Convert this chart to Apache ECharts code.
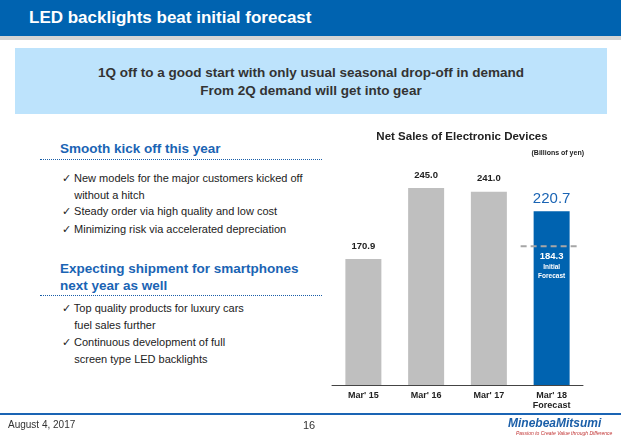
<!DOCTYPE html>
<html><head><meta charset="utf-8">
<script src="https://cdn.jsdelivr.net/npm/echarts@6/dist/echarts.min.js"></script>
<style>
body{margin:0;width:621px;height:438px;position:relative;overflow:hidden;font-family:"Liberation Sans",Arial,sans-serif;background:#fff}
.a{position:absolute}
#chart{position:absolute;left:0;top:0;width:621px;height:438px}
.h{color:#1a64b4;font-weight:bold;font-size:13.5px}
.b{font-size:11px;color:#222}
.dot{border-top:1px dotted #1a5ea8;height:0}
</style></head><body>
<div class="a" style="left:0;top:0;width:621px;height:36px;background:#0063b0"></div>
<div class="a" style="left:0;top:36px;width:621px;height:4px;background:#d4d4d4"></div>
<div class="a" style="left:29px;top:8px;color:#fff;font-weight:bold;font-size:17px">LED backlights beat initial forecast</div>
<div class="a" style="left:15px;top:48px;width:592px;height:66px;background:#bde3fc"></div>
<div class="a" style="left:15px;top:64px;width:592px;text-align:center;font-weight:bold;font-size:13.5px;color:#333;line-height:18px">1Q off to a good start with only usual seasonal drop-off in demand<br>From 2Q demand will get into gear</div>

<div class="a h" style="left:60px;top:141px">Smooth kick off this year</div>
<div class="a dot" style="left:40px;top:159px;width:282px"></div>
<div class="a b" style="left:62px;top:170px;line-height:17px">✓ New models for the major customers kicked off<br>&nbsp;&nbsp;&nbsp;&nbsp;without a hitch</div>
<div class="a b" style="left:62px;top:205px">✓ Steady order via high quality and low cost</div>
<div class="a b" style="left:62px;top:223px">✓ Minimizing risk via accelerated depreciation</div>
<div class="a h" style="left:60px;top:260px;line-height:17px">Expecting shipment for smartphones<br>next year as well</div>
<div class="a dot" style="left:40px;top:295px;width:282px"></div>
<div class="a b" style="left:62px;top:300px;line-height:17px">✓ Top quality products for luxury cars<br>&nbsp;&nbsp;&nbsp;&nbsp;fuel sales further</div>
<div class="a b" style="left:62px;top:334px;line-height:17px">✓ Continuous development of full<br>&nbsp;&nbsp;&nbsp;&nbsp;screen type LED backlights</div>

<div id="chart"></div>

<div class="a" style="left:0;top:413px;width:621px;height:2px;background:#1a64b4"></div>
<div class="a" style="left:8px;top:419px;font-size:10px;color:#333">August 4, 2017</div>
<div class="a" style="left:303px;top:419px;font-size:11px;color:#333">16</div>
<div class="a" style="left:508px;top:416px;font-size:12px;font-weight:bold;font-style:italic;color:#1a5ea8">MinebeaMitsumi</div>
<div class="a" style="left:516px;top:430px;font-size:5px;font-style:italic;color:#c03030">Passion to Create Value through Difference</div>

<script>
const categories = ["Mar' 15", "Mar' 16", "Mar' 17", "Mar' 18\nForecast"];
const sales = [170.9, 245.0, 241.0, 220.7];
const initialForecast = 184.3;

const chart = echarts.init(document.getElementById('chart'));
chart.setOption({
    animation: false,
    title: [
        {text: 'Net Sales of Electronic Devices', left: 457, top: 126, textAlign: 'center',
         textStyle: {fontSize: 11.5, fontWeight: 'bold', color: '#222', fontFamily: 'Liberation Sans'}},
        {text: '(Billions of yen)', right: 32, top: 145,
         textStyle: {fontSize: 7, fontWeight: 'bold', color: '#222', fontFamily: 'Liberation Sans'}}
    ],
    grid: {left: 332, right: 38, top: 150, bottom: 53},
    xAxis: {
        type: 'category', data: categories,
        axisLine: {lineStyle: {color: '#444', width: 1}},
        axisTick: {show: false},
        axisLabel: {color: '#222', fontWeight: 'bold', fontSize: 9, fontFamily: 'Liberation Sans', lineHeight: 10, margin: 6}
    },
    yAxis: {type: 'value', min: 39.4, max: 284.6, show: false, splitLine: {show: false}},
    series: [
        {
            type: 'bar', barWidth: 36, z: 2,
            data: sales.map((v, i) => ({
                value: v,
                itemStyle: {color: i === 3 ? '#0063b0' : '#bfbfbf'},
                label: i === 3
                    ? {color: '#1a64b4', fontSize: 15, fontWeight: 'normal', distance: 5}
                    : {color: '#222', fontSize: 9.5, fontWeight: 'bold', distance: 8}
            })),
            label: {show: true, position: 'top', fontFamily: 'Liberation Sans', formatter: p => p.value.toFixed(1)}
        },
        {
            type: 'custom', z: 10,
            data: [[3, initialForecast]],
            renderItem: function (params, api) {
                const p = api.coord([api.value(0), api.value(1)]);
                return {
                    type: 'group',
                    children: [
                        {type: 'line', shape: {x1: p[0] - 31, y1: p[1], x2: p[0] + 27, y2: p[1]},
                         style: {stroke: '#a6a6a6', lineWidth: 2, lineDash: [6, 4]}},
                        {type: 'text', x: p[0], y: p[1] + 5,
                         style: {text: initialForecast.toFixed(1), fill: '#fff', fontSize: 9.5, fontWeight: 'bold',
                                 align: 'center', verticalAlign: 'top', fontFamily: 'Liberation Sans'}},
                        {type: 'text', x: p[0], y: p[1] + 17,
                         style: {text: 'Initial\nForecast', fill: '#fff', fontSize: 6.5, fontWeight: 'bold', lineHeight: 9,
                                 align: 'center', verticalAlign: 'top', fontFamily: 'Liberation Sans'}}
                    ]
                };
            }
        }
    ]
});
</script>
</body></html>
